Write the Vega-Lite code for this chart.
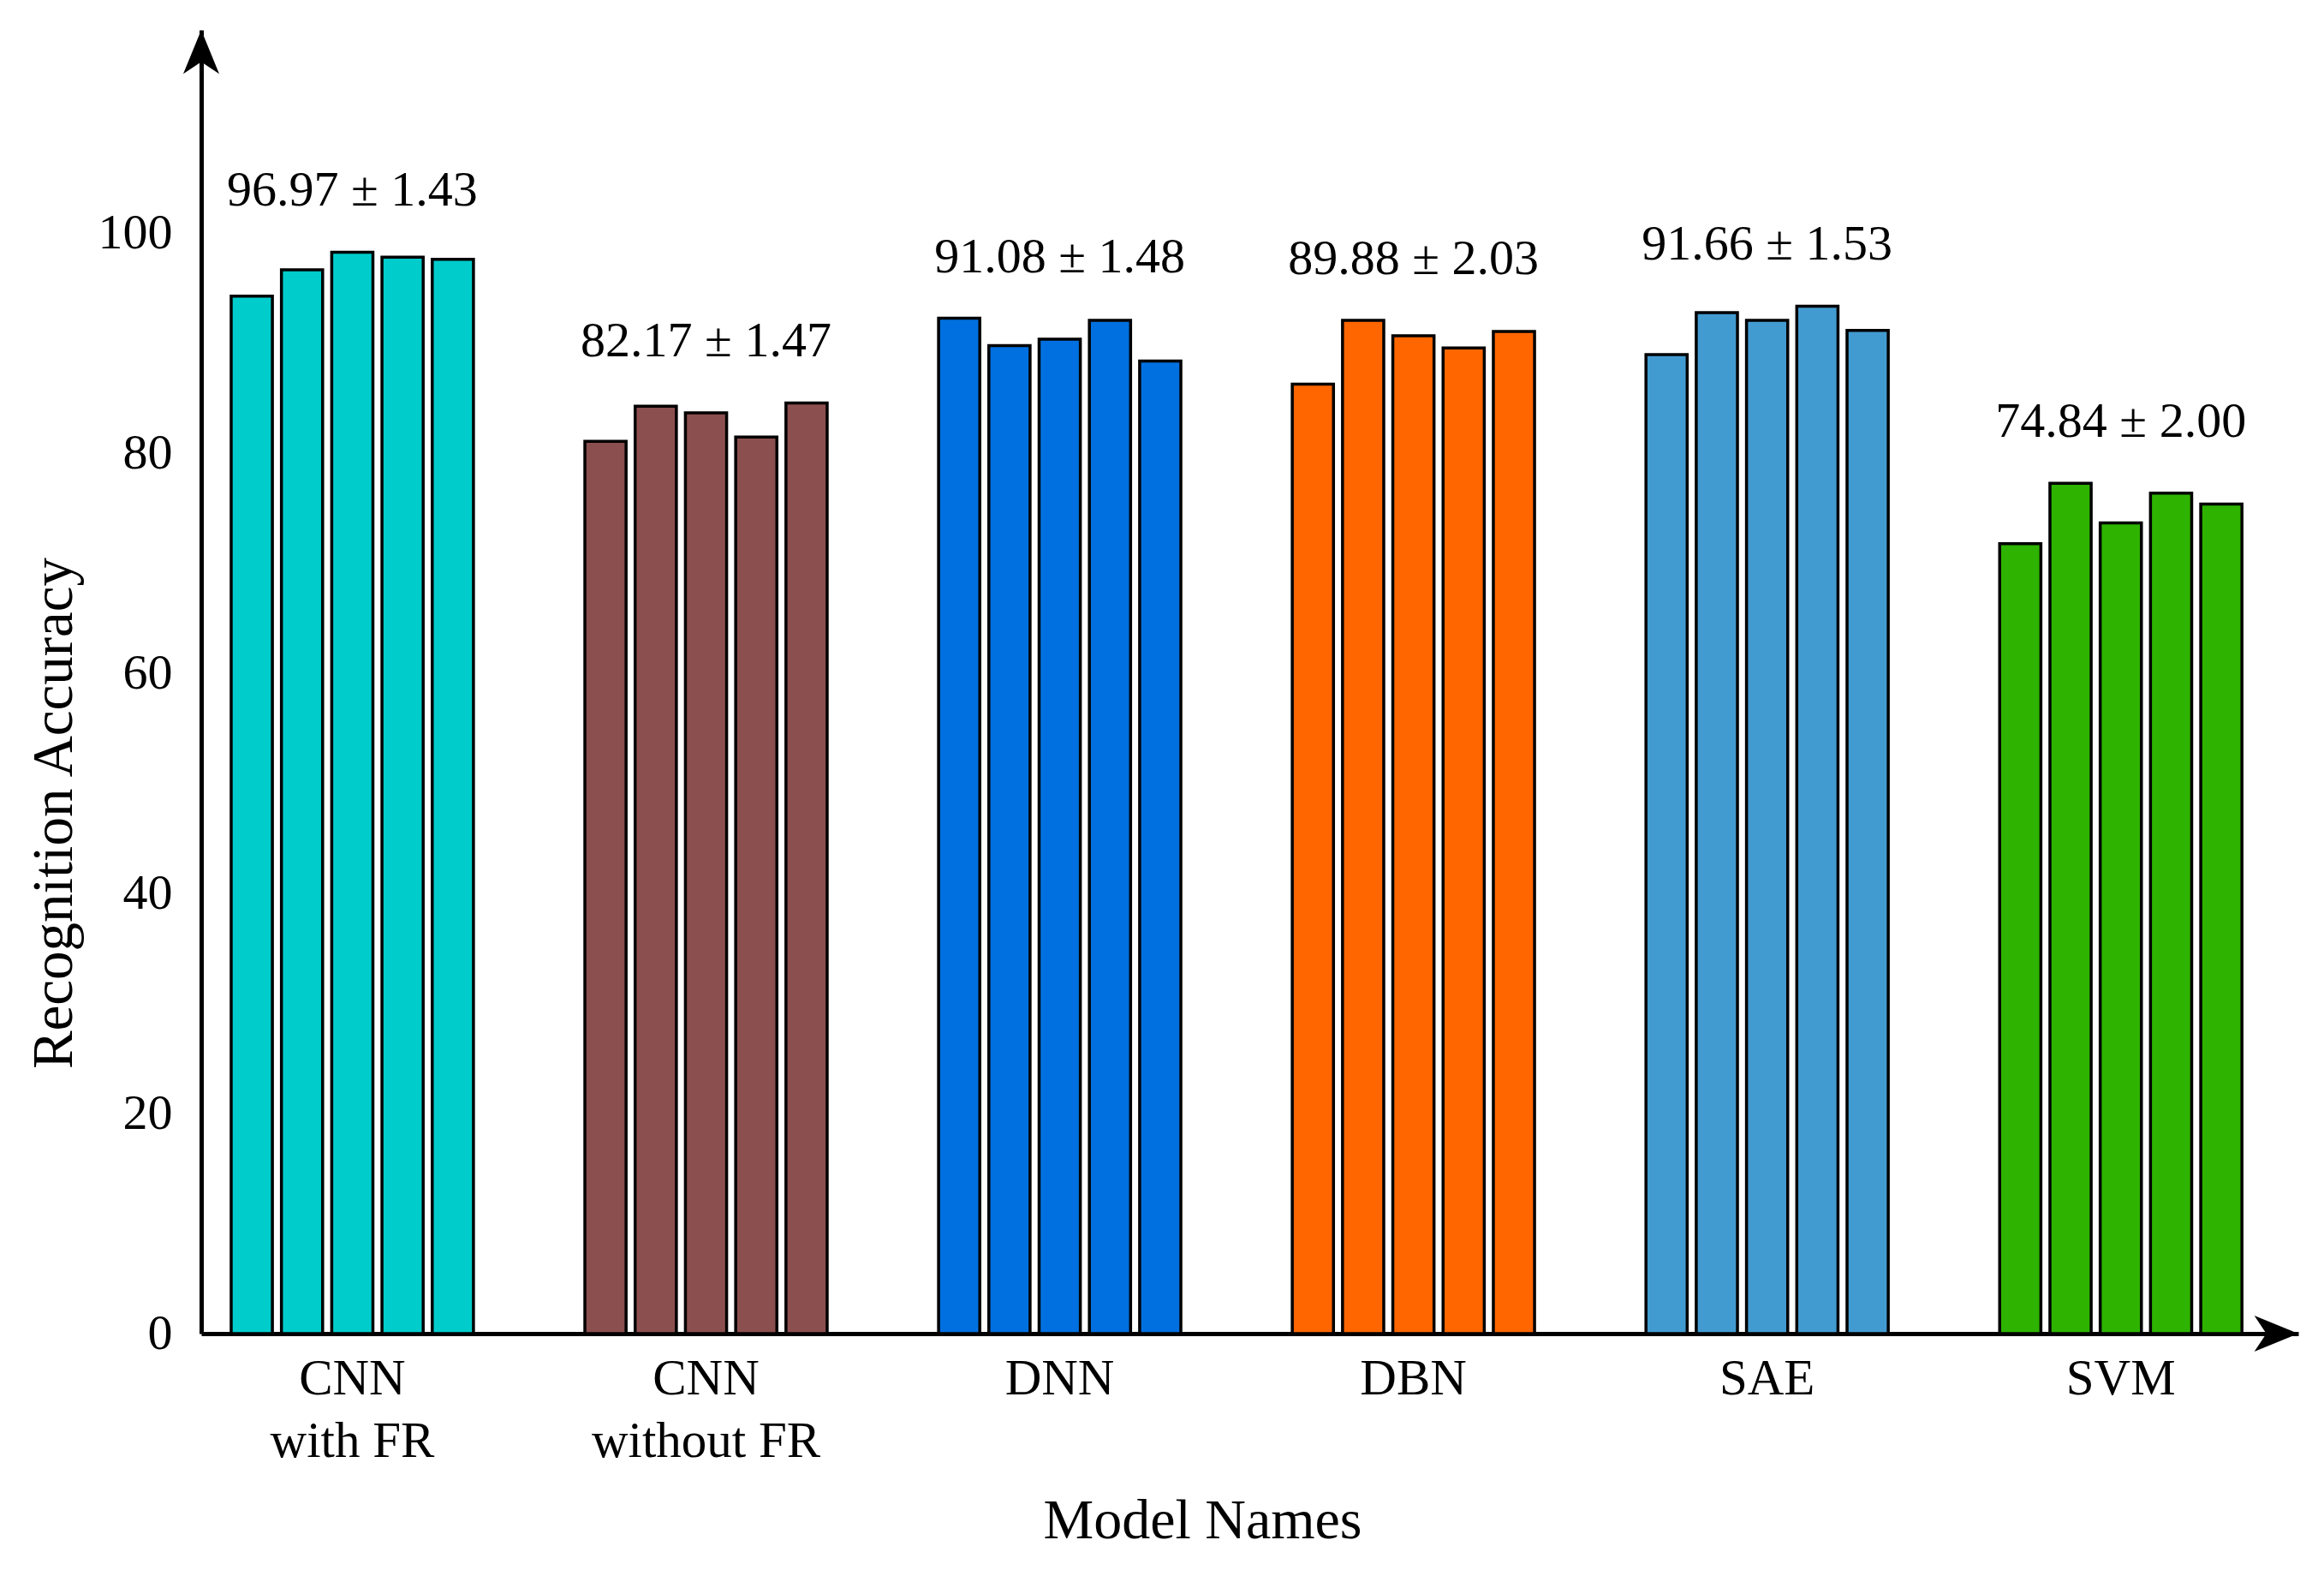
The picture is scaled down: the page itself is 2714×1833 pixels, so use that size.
{
  "$schema": "https://vega.github.io/schema/vega-lite/v6.json",
  "width": 2449,
  "height": 1522,
  "autosize": "none",
  "padding": {"left": 235, "top": 35, "right": 30, "bottom": 276},
  "background": "white",
  "config": {"view": {"stroke": null}, "font": "Liberation Serif"},
  "data": {
    "values": [
      {"model": "CNN with FR", "run": 1, "acc": 94.3, "label": "96.97 ± 1.43"},
      {"model": "CNN with FR", "run": 2, "acc": 96.7, "label": "96.97 ± 1.43"},
      {"model": "CNN with FR", "run": 3, "acc": 98.3, "label": "96.97 ± 1.43"},
      {"model": "CNN with FR", "run": 4, "acc": 97.85, "label": "96.97 ± 1.43"},
      {"model": "CNN with FR", "run": 5, "acc": 97.65, "label": "96.97 ± 1.43"},
      {"model": "CNN without FR", "run": 1, "acc": 81.1, "label": "82.17 ± 1.47"},
      {"model": "CNN without FR", "run": 2, "acc": 84.3, "label": "82.17 ± 1.47"},
      {"model": "CNN without FR", "run": 3, "acc": 83.7, "label": "82.17 ± 1.47"},
      {"model": "CNN without FR", "run": 4, "acc": 81.5, "label": "82.17 ± 1.47"},
      {"model": "CNN without FR", "run": 5, "acc": 84.6, "label": "82.17 ± 1.47"},
      {"model": "DNN", "run": 1, "acc": 92.3, "label": "91.08 ± 1.48"},
      {"model": "DNN", "run": 2, "acc": 89.8, "label": "91.08 ± 1.48"},
      {"model": "DNN", "run": 3, "acc": 90.4, "label": "91.08 ± 1.48"},
      {"model": "DNN", "run": 4, "acc": 92.1, "label": "91.08 ± 1.48"},
      {"model": "DNN", "run": 5, "acc": 88.4, "label": "91.08 ± 1.48"},
      {"model": "DBN", "run": 1, "acc": 86.3, "label": "89.88 ± 2.03"},
      {"model": "DBN", "run": 2, "acc": 92.1, "label": "89.88 ± 2.03"},
      {"model": "DBN", "run": 3, "acc": 90.7, "label": "89.88 ± 2.03"},
      {"model": "DBN", "run": 4, "acc": 89.6, "label": "89.88 ± 2.03"},
      {"model": "DBN", "run": 5, "acc": 91.1, "label": "89.88 ± 2.03"},
      {"model": "SAE", "run": 1, "acc": 89.0, "label": "91.66 ± 1.53"},
      {"model": "SAE", "run": 2, "acc": 92.8, "label": "91.66 ± 1.53"},
      {"model": "SAE", "run": 3, "acc": 92.1, "label": "91.66 ± 1.53"},
      {"model": "SAE", "run": 4, "acc": 93.4, "label": "91.66 ± 1.53"},
      {"model": "SAE", "run": 5, "acc": 91.2, "label": "91.66 ± 1.53"},
      {"model": "SVM", "run": 1, "acc": 71.8, "label": "74.84 ± 2.00"},
      {"model": "SVM", "run": 2, "acc": 77.3, "label": "74.84 ± 2.00"},
      {"model": "SVM", "run": 3, "acc": 73.7, "label": "74.84 ± 2.00"},
      {"model": "SVM", "run": 4, "acc": 76.4, "label": "74.84 ± 2.00"},
      {"model": "SVM", "run": 5, "acc": 75.4, "label": "74.84 ± 2.00"}
    ]
  },
  "layer": [
    {
      "mark": {"type": "bar", "stroke": "black", "strokeWidth": 3.5},
      "encoding": {
        "x": {
          "field": "model",
          "type": "nominal",
          "sort": ["CNN with FR", "CNN without FR", "DNN", "DBN", "SAE", "SVM"],
          "scale": {"paddingInner": 0.315, "paddingOuter": 0.122, "align": 0.347},
          "axis": {
            "title": "Model Names",
            "labelAngle": 0,
            "ticks": false,
            "labelPadding": 23,
            "labelFontSize": 59,
            "labelFont": "Liberation Serif",
            "labelColor": "black",
            "labelLineHeight": 73,
            "labelLimit": 0,
            "labelBaseline": "top",
            "labelExpr": "datum.value == 'CNN with FR' ? ['CNN', 'with FR'] : datum.value == 'CNN without FR' ? ['CNN', 'without FR'] : datum.value",
            "titleFontSize": 66,
            "titleFont": "Liberation Serif",
            "titleFontWeight": "normal",
            "titleColor": "black",
            "titleX": 1169,
            "titleY": 218,
            "titleBaseline": "middle",
            "titleAlign": "center",
            "domainColor": "black",
            "domainWidth": 5
          }
        },
        "xOffset": {
          "field": "run",
          "type": "nominal",
          "scale": {"paddingInner": 0.18, "paddingOuter": 0}
        },
        "y": {
          "field": "acc",
          "type": "quantitative",
          "scale": {"domain": [0, 118.5], "nice": false, "zero": true},
          "axis": {
            "title": "Recognition Accuracy",
            "values": [0, 20, 40, 60, 80, 100],
            "ticks": false,
            "grid": false,
            "labelPadding": 34,
            "labelFontSize": 58,
            "labelFont": "Liberation Serif",
            "labelColor": "black",
            "titleFontSize": 67,
            "titleFont": "Liberation Serif",
            "titleFontWeight": "normal",
            "titleColor": "black",
            "titleX": -172,
            "titleY": 914,
            "titleBaseline": "middle",
            "titleAlign": "center",
            "domainColor": "black",
            "domainWidth": 5
          }
        },
        "color": {
          "field": "model",
          "type": "nominal",
          "scale": {
            "domain": ["CNN with FR", "CNN without FR", "DNN", "DBN", "SAE", "SVM"],
            "range": ["#00CCCC", "#8C4F4F", "#0070E0", "#FF6600", "#429BD0", "#2DB300"]
          },
          "legend": null
        }
      }
    },
    {
      "transform": [
        {"aggregate": [{"op": "max", "field": "acc", "as": "top"}], "groupby": ["model", "label"]}
      ],
      "mark": {"type": "text", "baseline": "alphabetic", "dy": -54, "fontSize": 58, "font": "Liberation Serif", "color": "black"},
      "encoding": {
        "x": {"field": "model", "type": "nominal", "sort": ["CNN with FR", "CNN without FR", "DNN", "DBN", "SAE", "SVM"]},
        "y": {"field": "top", "type": "quantitative", "title": "Recognition Accuracy"},
        "text": {"field": "label"}
      }
    },
    {
      "data": {"values": [{"end": "y"}]},
      "mark": {"type": "point", "shape": "M0,0 L0.9,2.2 L0,1.6 L-0.9,2.2 Z", "size": 2180, "filled": true, "color": "black", "opacity": 1, "strokeWidth": 0},
      "encoding": {
        "x": {"value": 0},
        "y": {"datum": 118.5, "type": "quantitative", "title": "Recognition Accuracy"}
      }
    },
    {
      "data": {"values": [{"end": "x"}]},
      "mark": {"type": "point", "shape": "M0,0 L-2.2,0.9 L-1.6,0 L-2.2,-0.9 Z", "size": 2180, "filled": true, "color": "black", "opacity": 1, "strokeWidth": 0},
      "encoding": {
        "x": {"value": "width"},
        "y": {"datum": 0, "type": "quantitative", "title": "Recognition Accuracy"}
      }
    }
  ]
}
